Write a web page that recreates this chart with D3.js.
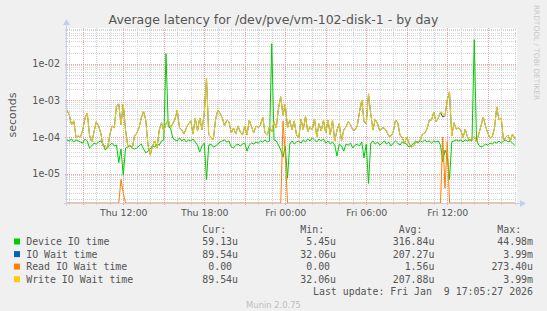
<!DOCTYPE html>
<html>
<head>
<meta charset="utf-8">
<script src="https://cdn.jsdelivr.net/npm/d3@7"></script>
<style>
  html, body { margin: 0; padding: 0; background: #f0f0f0; }
  svg { display: block; }
</style>
</head>
<body>
<div id="chart"></div>
<script>
// samples every 10 minutes, Thu 07:50 -> Fri 17:00 (values in microseconds)
const startTime = new Date(2026, 0, 8, 7, 50);
const endTime = new Date(2026, 0, 9, 17, 10);
const stepMinutes = 10;

const deviceUs = [
  83, 78, 88, 73, 83, 78, 73, 68, 88, 78,
  50, 57, 68, 64, 73, 78, 64, 44, 53, 60,
  68, 57, 60, 20, 47, 9, 50, 53, 57, 50,
  47, 50, 57, 64, 47, 37, 41, 47, 57, 53,
  64, 60, 78, 83, 18750, 190, 176, 94, 83, 78,
  94, 78, 88, 73, 83, 78, 88, 73, 60, 39,
  57, 68, 7, 60, 64, 53, 57, 64, 73, 78,
  83, 73, 78, 53, 50, 60, 64, 57, 64, 68,
  41, 60, 68, 64, 73, 68, 78, 73, 83, 73,
  78, 35000, 83, 78, 60, 44, 28, 57, 7.5, 64,
  78, 64, 73, 78, 68, 83, 73, 88, 78, 94,
  83, 73, 88, 78, 88, 68, 78, 64, 73, 60,
  30, 64, 57, 41, 64, 60, 68, 50, 60, 64,
  57, 73, 27, 64, 5.45, 68, 78, 64, 73, 60,
  68, 78, 64, 73, 57, 68, 78, 68, 60, 73,
  68, 64, 53, 57, 68, 78, 68, 78, 73, 83,
  73, 78, 68, 78, 73, 78, 60, 21, 44, 32,
  7, 73, 78, 83, 78, 83, 73, 83, 78, 83,
  78, 44980, 83, 60, 53, 57, 64, 60, 68, 64,
  73, 68, 78, 68, 78, 83, 73, 78, 68, 59.13
];

const ioWaitUs = [
  540, 400, 215, 275, 100, 106, 100, 155, 330, 450,
  113, 73, 137, 260, 200, 128, 57, 57, 47, 113,
  200, 176, 700, 790, 215, 790, 155, 57, 60, 50,
  106, 128, 176, 330, 510, 290, 60, 32.06, 57, 78,
  50, 155, 245, 145, 230, 290, 176, 230, 310, 540,
  176, 155, 120, 176, 230, 275, 120, 330, 145, 330,
  155, 450, 3990, 113, 100, 83, 290, 540, 450, 330,
  200, 290, 260, 128, 176, 120, 200, 137, 113, 200,
  113, 290, 190, 128, 200, 176, 215, 350, 128, 113,
  190, 137, 260, 176, 620, 1250, 390, 790, 176, 290,
  155, 275, 113, 94, 310, 155, 370, 137, 190, 155,
  310, 100, 230, 145, 290, 128, 290, 113, 290, 78,
  155, 230, 78, 155, 190, 260, 215, 155, 155, 200,
  480, 1020, 260, 230, 1500, 420, 155, 310, 230, 145,
  176, 176, 145, 106, 106, 137, 290, 245, 113, 94,
  68, 100, 68, 53, 57, 73, 73, 83, 120, 128,
  165, 290, 290, 480, 260, 330, 470, 350, 380, 1020,
  1700, 106, 245, 165, 176, 155, 94, 165, 100, 78,
  94, 100, 73, 120, 200, 350, 200, 128, 94, 100,
  176, 660, 290, 330, 78, 100, 113, 78, 120, 89.54
];

const readUs = [
  0, 0, 0, 0, 0, 0, 0, 0, 0, 0,
  0, 0, 0, 0, 0, 0, 0, 0, 0, 0,
  0, 0, 0, 0, 7, 3, 0, 0, 0, 0,
  0, 0, 0, 0, 0, 0, 0, 0, 0, 0,
  0, 0, 0, 0, 0, 0, 0, 0, 0, 0,
  0, 0, 0, 0, 0, 0, 0, 0, 0, 0,
  0, 0, 0, 0, 0, 0, 0, 0, 0, 0,
  0, 0, 0, 0, 0, 0, 0, 0, 0, 0,
  0, 0, 0, 0, 0, 0, 0, 0, 0, 0,
  0, 0, 0, 0, 0, 0, 273.4, 35, 0, 0,
  0, 0, 0, 0, 0, 0, 0, 0, 0, 0,
  0, 0, 0, 0, 0, 0, 0, 0, 0, 0,
  0, 0, 0, 0, 0, 0, 0, 0, 0, 0,
  0, 0, 0, 0, 0, 0, 0, 0, 0, 0,
  0, 0, 0, 0, 0, 0, 0, 0, 0, 0,
  0, 0, 0, 0, 0, 0, 0, 0, 0, 0,
  0, 0, 0, 0, 0, 0, 0, 100, 4, 75,
  0, 0, 0, 0, 0, 0, 0, 0, 0, 0,
  0, 0, 0, 0, 0, 0, 0, 0, 0, 0,
  0, 0, 0, 0, 0, 0, 0, 0, 0, 0
];

const writeUs = [
  540, 400, 215, 275, 100, 106, 100, 155, 330, 450,
  113, 73, 137, 260, 200, 128, 57, 57, 47, 113,
  200, 176, 700, 790, 215, 790, 155, 57, 60, 50,
  106, 128, 176, 330, 510, 290, 60, 32.06, 57, 78,
  50, 155, 245, 145, 230, 290, 176, 230, 310, 540,
  176, 155, 120, 176, 230, 275, 120, 330, 145, 330,
  155, 450, 3990, 113, 100, 83, 290, 540, 450, 330,
  200, 290, 260, 128, 176, 120, 200, 137, 113, 200,
  113, 290, 190, 128, 200, 176, 215, 350, 128, 113,
  190, 137, 260, 176, 620, 1250, 390, 790, 176, 290,
  155, 275, 113, 94, 310, 155, 370, 137, 190, 155,
  310, 100, 230, 145, 290, 128, 290, 113, 290, 78,
  155, 230, 78, 155, 190, 260, 215, 155, 155, 200,
  480, 1020, 260, 230, 1500, 420, 155, 310, 230, 145,
  176, 176, 145, 106, 106, 137, 290, 245, 113, 94,
  68, 100, 68, 53, 57, 73, 73, 83, 120, 128,
  165, 290, 290, 480, 260, 330, 480, 450, 370, 1020,
  1700, 106, 245, 165, 176, 155, 94, 165, 100, 78,
  94, 100, 73, 120, 200, 350, 200, 128, 94, 100,
  176, 660, 290, 330, 78, 100, 113, 78, 120, 89.54
];

const seriesNames = ["Device IO time", "IO Wait time", "Read IO Wait time", "Write IO Wait time"];
const seriesColors = ["#00cc00", "#0066b3", "#ff8000", "#ffcc00"];
const curText = ["59.13u", "89.54u", "0.00", "89.54u"];
const minText = ["5.45u", "32.06u", "0.00", "32.06u"];
const avgText = ["316.84u", "207.27u", "1.56u", "207.88u"];
const maxText = ["44.98m", "3.99m", "273.40u", "3.99m"];
const colHeaders = ["Cur:", "Min:", "Avg:", "Max:"];

const yTickValues = [1e-5, 1e-4, 1e-3, 1e-2];
const yTickLabels = ["1e-05", "1e-04", "1e-03", "1e-02"];
const xTickLabels = ["Thu 12:00", "Thu 18:00", "Fri 00:00", "Fri 06:00", "Fri 12:00"];

const W = 547, H = 311;
const plot = { left: 67, right: 517, top: 28, bottom: 203 };
const sans = "'DejaVu Sans', sans-serif";
const mono = "'DejaVu Sans Mono', monospace";
const textColor = "#555";
const axisColor = "#c6cdf2";

const svg = d3.select("#chart").append("svg")
    .attr("width", W)
    .attr("height", H);

svg.append("rect").attr("width", W).attr("height", H).attr("fill", "#f0f0f0");
svg.append("rect")
    .attr("x", plot.left).attr("y", plot.top)
    .attr("width", plot.right - plot.left).attr("height", plot.bottom - plot.top)
    .attr("fill", "#ffffff");

// scales
const x = d3.scaleTime().domain([startTime, endTime]).range([plot.left, plot.right]);
const yMin = 1.59e-6, yMax = 0.0933;
const y = d3.scaleLog().domain([yMin, yMax]).range([plot.bottom, plot.top]);

const timeAt = i => new Date(startTime.getTime() + i * stepMinutes * 60000);

// grid: minor
const minorY = [];
for (let k = -6; k <= -2; k++) {
  for (let m = 2; m <= 9; m++) {
    const v = m * Math.pow(10, k);
    if (v > yMin && v < yMax) minorY.push(v);
  }
}
const grid = svg.append("g").attr("shape-rendering", "crispEdges");
grid.selectAll(".hminor").data(minorY).enter().append("line")
    .attr("x1", plot.left - 2).attr("x2", plot.right)
    .attr("y1", d => Math.round(y(d)) + 0.5).attr("y2", d => Math.round(y(d)) + 0.5)
    .attr("stroke", "#d4d4d4").attr("stroke-dasharray", "1,1");

const hours = d3.timeHour.every(1).range(startTime, endTime);
grid.selectAll(".vminor").data(hours.filter(d => d.getHours() % 3 !== 0)).enter().append("line")
    .attr("x1", d => Math.round(x(d)) + 0.5).attr("x2", d => Math.round(x(d)) + 0.5)
    .attr("y1", plot.top).attr("y2", plot.bottom + 2)
    .attr("stroke", "#d4d4d4").attr("stroke-dasharray", "1,1");

// grid: major
grid.selectAll(".hmajor").data(yTickValues).enter().append("line")
    .attr("x1", plot.left - 2).attr("x2", plot.right)
    .attr("y1", d => Math.round(y(d)) + 0.5).attr("y2", d => Math.round(y(d)) + 0.5)
    .attr("stroke", "#eaa4a4").attr("stroke-dasharray", "1,1");

grid.selectAll(".vmajor").data(hours.filter(d => d.getHours() % 3 === 0)).enter().append("line")
    .attr("x1", d => Math.round(x(d)) + 0.5).attr("x2", d => Math.round(x(d)) + 0.5)
    .attr("y1", plot.top).attr("y2", plot.bottom + 3)
    .attr("stroke", "#eaa4a4").attr("stroke-dasharray", "1,1");

// series lines
const seriesData = [deviceUs, ioWaitUs, readUs, writeUs];
const line = d3.line()
    .x((d, i) => x(timeAt(i)))
    .y(d => y(Math.max(d * 1e-6, yMin)));

svg.append("g").selectAll("path").data(seriesData).enter().append("path")
    .attr("d", d => line(d))
    .attr("fill", "none")
    .attr("stroke", (d, i) => seriesColors[i])
    .attr("stroke-width", 1);

// axes lines with arrows
const axes = svg.append("g");
axes.append("line")
    .attr("x1", plot.left - 0.5).attr("x2", plot.left - 0.5)
    .attr("y1", plot.bottom + 3).attr("y2", plot.top - 4)
    .attr("stroke", axisColor);
axes.append("path")
    .attr("d", `M${plot.left - 4},${plot.top - 3}L${plot.left - 0.5},${plot.top - 9}L${plot.left + 3},${plot.top - 3}Z`)
    .attr("fill", axisColor);
axes.append("line")
    .attr("x1", plot.left - 3).attr("x2", plot.right + 3)
    .attr("y1", plot.bottom + 0.5).attr("y2", plot.bottom + 0.5)
    .attr("stroke", axisColor);
axes.append("path")
    .attr("d", `M${plot.right + 3},${plot.bottom - 3}L${plot.right + 9},${plot.bottom + 0.5}L${plot.right + 3},${plot.bottom + 4}Z`)
    .attr("fill", axisColor);

// y axis labels
const yAxis = d3.axisLeft(y)
    .tickValues(yTickValues)
    .tickSize(0)
    .tickPadding(7)
    .tickFormat((d, i) => yTickLabels[i]);
const gy = svg.append("g").attr("transform", `translate(${plot.left},0)`).call(yAxis);
gy.select(".domain").remove();
gy.selectAll("text")
    .attr("font-family", sans).attr("font-size", "9.6px").attr("fill", textColor);

// x axis labels
const xTicks = d3.timeHour.every(6).range(startTime, endTime);
const xAxis = d3.axisBottom(x)
    .tickValues(xTicks)
    .tickSize(0)
    .tickPadding(6)
    .tickFormat((d, i) => xTickLabels[i]);
const gx = svg.append("g").attr("transform", `translate(0,${plot.bottom})`).call(xAxis);
gx.select(".domain").remove();
gx.selectAll("text")
    .attr("font-family", sans).attr("font-size", "9.4px").attr("fill", textColor);

// title and axis title
svg.append("text")
    .attr("x", W / 2).attr("y", 24.2)
    .attr("text-anchor", "middle")
    .attr("font-family", sans).attr("font-size", "12.5px").attr("fill", textColor)
    .text("Average latency for /dev/pve/vm-102-disk-1 - by day");

svg.append("text")
    .attr("transform", "translate(15.5,115) rotate(-90)")
    .attr("text-anchor", "middle")
    .attr("font-family", sans).attr("font-size", "11px").attr("fill", textColor)
    .text("seconds");

svg.append("text")
    .attr("transform", "translate(534,52.5) rotate(90)")
    .attr("text-anchor", "middle")
    .attr("font-family", sans).attr("font-size", "7.4px").attr("fill", "#c8c8c8")
    .text("RRDTOOL / TOBI OETIKER");

// legend
const charW = 5.96;
const colEnds = [238, 336, 434.4, 533];
const rowY = [241.5, 254.1, 266.6, 279.2];
const legend = svg.append("g")
    .attr("font-family", mono).attr("font-size", "9.9px").attr("fill", textColor);

legend.selectAll(".hdr").data(colHeaders).enter().append("text")
    .attr("x", (d, i) => colEnds[i] - 2 * charW)
    .attr("y", 229.7 + 3.5)
    .attr("text-anchor", "end")
    .text(d => d);

const rows = legend.selectAll(".row").data(seriesNames).enter().append("g");
rows.append("rect")
    .attr("x", 14).attr("y", (d, i) => rowY[i] - 3)
    .attr("width", 6).attr("height", 6)
    .attr("fill", (d, i) => seriesColors[i]);
rows.append("text")
    .attr("x", 26.2).attr("y", (d, i) => rowY[i] + 3.5)
    .text(d => d);

const cols = [curText, minText, avgText, maxText];
cols.forEach((col, c) => {
  legend.selectAll(".c" + c).data(col).enter().append("text")
      .attr("x", d => colEnds[c] - (/[a-z]$/.test(d) ? 0 : charW))
      .attr("y", (d, i) => rowY[i] + 3.5)
      .attr("text-anchor", "end")
      .text(d => d);
});

legend.append("text")
    .attr("x", 533).attr("y", 291.8 + 3.5)
    .attr("text-anchor", "end")
    .style("white-space", "pre")
    .text("Last update: Fri Jan  9 17:05:27 2026");

svg.append("text")
    .attr("x", W / 2).attr("y", 307.5)
    .attr("text-anchor", "middle")
    .attr("font-family", sans).attr("font-size", "8.4px").attr("fill", "#bdbdbd")
    .text("Munin 2.0.75");
</script>
</body>
</html>
